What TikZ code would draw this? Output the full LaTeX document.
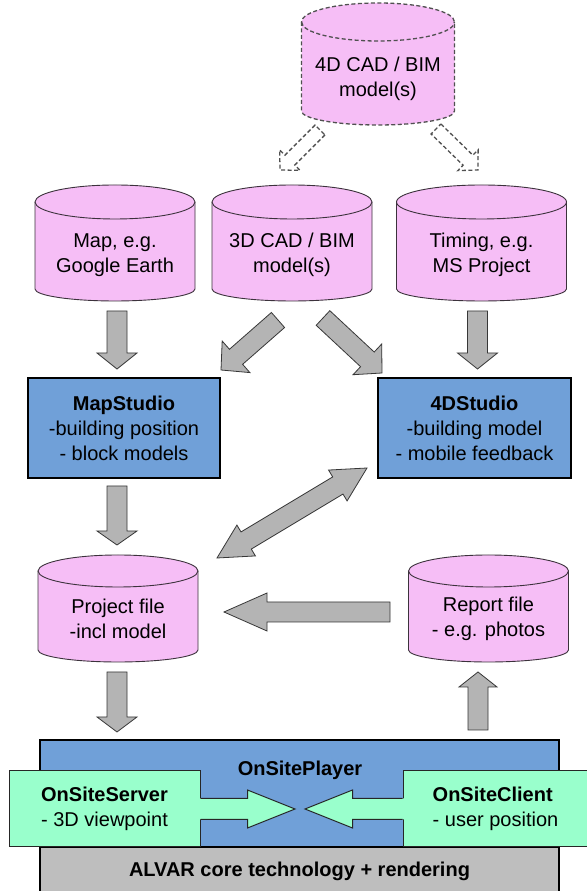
\documentclass[tikz,border=0pt]{standalone}
\usepackage{fontspec}
\setmainfont{Liberation Sans}
\usetikzlibrary{calc}
\definecolor{pinkc}{RGB}{246,190,246}
\definecolor{bluec}{RGB}{112,160,216}
\definecolor{greenc}{RGB}{153,255,204}
\definecolor{grayc}{RGB}{180,180,180}
\definecolor{alvarc}{RGB}{190,190,190}
\definecolor{cyline}{RGB}{60,50,60}
\definecolor{arrline}{RGB}{55,55,55}
\definecolor{dashline}{RGB}{80,80,80}
\tikzset{
  txt/.style={font=\fontsize{20}{25}\selectfont},
  cylfill/.style={fill=pinkc, draw=cyline, line width=0.9pt},
  cyldash/.style={fill=pinkc, draw=dashline, line width=1.3pt, dash pattern=on 4pt off 2.5pt},
  cyltext/.style={txt, inner sep=0pt, align=center},
  studio/.style={txt, draw=black, line width=2.6pt, fill=bluec, align=center, inner sep=0pt,
                 minimum height=100pt},
  grayarrow/.style={fill=grayc, draw=arrline, line width=0.8pt, line join=miter},
  dasharrow/.style={fill=white, draw=dashline, line width=1.3pt, dash pattern=on 4pt off 2.5pt},
  greenbox/.style={txt, fill=greenc, draw=black!85, line width=1pt, align=left, inner sep=0pt,
                   minimum height=76pt},
  garrow/.style={draw=black!85, line width=1pt, line join=miter},
  bigbox/.style={txt, draw=black, line width=2pt, inner sep=0pt, minimum width=519pt},
}
% cylinder outline: #1 style, #2 xc, #3 top, #4 bottom, #5 half width, #6 top radius, #7 bottom radius
\newcommand\cylshape[7]{%
  \pgfmathsetmacro\cT{#3-#6}\pgfmathsetmacro\cB{#4+#7}%
  \pgfmathsetmacro\xL{#2-#5}\pgfmathsetmacro\xR{#2+#5}%
  \filldraw[#1] (\xL,\cT) -- (\xL,\cB) arc[start angle=180,end angle=360,x radius=#5,y radius=#7]
    -- (\xR,\cT) arc[start angle=0,end angle=180,x radius=#5,y radius=#6] -- cycle;
  \draw[#1,fill=none] (\xL,\cT) arc[start angle=180,end angle=360,x radius=#5,y radius=#6];
}
% block arrow: #1 style, #2 start, #3 tip, #4 shaft half width, #5 head half width, #6 head length
\newcommand\blockarrow[6]{%
  \coordinate (baH) at ($(#3)!#6!(#2)$);
  \filldraw[#1] ($(#2)!#4!90:(#3)$) -- ($(baH)!#4!-90:(#2)$) -- ($(baH)!#5!-90:(#2)$) -- (#3)
    -- ($(baH)!#5!90:(#2)$) -- ($(baH)!#4!90:(#2)$) -- ($(#2)!#4!-90:(#3)$) -- cycle;
}
% double block arrow
\newcommand\dblockarrow[6]{%
  \coordinate (baA) at ($(#2)!#6!(#3)$);
  \coordinate (baB) at ($(#3)!#6!(#2)$);
  \filldraw[#1] (#2) -- ($(baA)!#5!90:(#3)$) -- ($(baA)!#4!90:(#3)$) -- ($(baB)!#4!-90:(#2)$)
    -- ($(baB)!#5!-90:(#2)$) -- (#3) -- ($(baB)!#5!90:(#2)$) -- ($(baB)!#4!90:(#2)$)
    -- ($(baA)!#4!-90:(#3)$) -- ($(baA)!#5!-90:(#3)$) -- cycle;
}
\begin{document}
\begin{tikzpicture}[x=1pt,y=1pt]
\useasboundingbox (0,0) rectangle (586,891);
\fill[white] (0,0) rectangle (586,891);

% ---------- cylinders ----------
\cylshape{cyldash}{378}{888}{766}{76.5}{19}{14}
\node[cyltext, minimum width=153pt, minimum height=74pt] (cad4d) at (378,812) {4D CAD / BIM\\model(s)};

\cylshape{cylfill}{115}{706}{590}{80}{17}{12}
\node[cyltext, minimum width=160pt, minimum height=70pt] (map) at (115,636) {Map, e.g.\\Google Earth};

\cylshape{cylfill}{292}{706}{590}{80}{17}{12}
\node[cyltext, minimum width=160pt, minimum height=70pt] (cad3d) at (292,636) {3D CAD / BIM\\model(s)};

\cylshape{cylfill}{481.5}{706}{590}{85}{17}{12}
\node[cyltext, minimum width=170pt, minimum height=70pt] (timing) at (481.5,636) {Timing, e.g.\\MS Project};

\cylshape{cylfill}{118}{336}{229}{80}{16}{12}
\node[cyltext, minimum width=160pt, minimum height=66pt] (project) at (118,272) {Project file\\-incl model};

\cylshape{cylfill}{488.5}{336}{229}{80}{16}{12}
\node[cyltext, minimum width=160pt, minimum height=66pt] (report) at (488.5,272) {Report file\\- e.g. photos};

% ---------- studios ----------
\node[studio, minimum width=192pt] (mapstudio) at (124,463)
  {\textbf{MapStudio}\\-building position\\- block models};
\node[studio, minimum width=193pt] (fourd) at (474.5,463)
  {\textbf{4DStudio}\\-building model\\- mobile feedback};

% ---------- bottom ----------
\node[bigbox, fill=bluec, minimum height=107pt] (player) at (299.5,97.5) {};
\node[txt, inner sep=0pt] (playerlbl) at (300,121) {\textbf{OnSitePlayer}};
\node[bigbox, fill=alvarc, minimum height=48pt] (alvar) at (299.5,20)
  {\textbf{ALVAR core technology + rendering}};
\node[greenbox, minimum width=191pt] (srv) at (104.5,82) {\textbf{OnSiteServer}\\- 3D viewpoint};
\node[greenbox, minimum width=185pt] (cli) at (495.5,82) {\textbf{OnSiteClient}\\- user position};

\coordinate (srvtip) at (295,82);
\coordinate (clitip) at (305,82);
\fill[greenc] ($(srv.east)+(-2,10.5)$) -- ($(srv.east)+(47,10.5)$) -- ($(srv.east)+(47,19)$) -- (srvtip)
  -- ($(srv.east)+(47,-19)$) -- ($(srv.east)+(47,-10.5)$) -- ($(srv.east)+(-2,-10.5)$) -- cycle;
\draw[garrow] ($(srv.east)+(0,10.5)$) -- ($(srv.east)+(47,10.5)$) -- ($(srv.east)+(47,19)$) -- (srvtip)
  -- ($(srv.east)+(47,-19)$) -- ($(srv.east)+(47,-10.5)$) -- ($(srv.east)+(0,-10.5)$);
\fill[greenc] ($(cli.west)+(2,10.5)$) -- ($(cli.west)+(-50,10.5)$) -- ($(cli.west)+(-50,19)$) -- (clitip)
  -- ($(cli.west)+(-50,-19)$) -- ($(cli.west)+(-50,-10.5)$) -- ($(cli.west)+(2,-10.5)$) -- cycle;
\draw[garrow] ($(cli.west)+(0,10.5)$) -- ($(cli.west)+(-50,10.5)$) -- ($(cli.west)+(-50,19)$) -- (clitip)
  -- ($(cli.west)+(-50,-19)$) -- ($(cli.west)+(-50,-10.5)$) -- ($(cli.west)+(0,-10.5)$);

% ---------- arrow end points ----------
\coordinate (d1s) at (320,761);   \coordinate (d1e) at (280,721);
\coordinate (d2s) at (436,762);   \coordinate (d2e) at (478,721);
\coordinate (a1s) at (117,580);   \coordinate (a1e) at (117,522);
\coordinate (a2s) at (477.5,580); \coordinate (a2e) at (477.5,522);
\coordinate (a3s) at (278,571);   \coordinate (a3e) at (221,521);
\coordinate (a4s) at (323,573);   \coordinate (a4e) at (382,518);
\coordinate (a5s) at (217,333);   \coordinate (a5e) at (367,423);
\coordinate (a6s) at (117,405);   \coordinate (a6e) at (117,346);
\coordinate (a7s) at (390,279);   \coordinate (a7e) at (224,279);
\coordinate (a8s) at (117,219);   \coordinate (a8e) at (117,159);
\coordinate (a9s) at (478,161);   \coordinate (a9e) at (478,219);

% dashed arrows from 4D CAD
\blockarrow{dasharrow}{d1s}{d1e}{7pt}{14.5pt}{14pt}
\blockarrow{dasharrow}{d2s}{d2e}{7pt}{14.5pt}{14pt}

% gray arrows
\blockarrow{grayarrow}{a1s}{a1e}{10pt}{20pt}{16pt}
\blockarrow{grayarrow}{a2s}{a2e}{10pt}{20pt}{16pt}
\blockarrow{grayarrow}{a3s}{a3e}{10pt}{21pt}{20pt}
\blockarrow{grayarrow}{a4s}{a4e}{10pt}{21pt}{20pt}
\dblockarrow{grayarrow}{a5s}{a5e}{10pt}{18pt}{34pt}
\blockarrow{grayarrow}{a6s}{a6e}{10pt}{20pt}{14pt}
\blockarrow{grayarrow}{a7s}{a7e}{10pt}{19pt}{43pt}
\blockarrow{grayarrow}{a8s}{a8e}{10pt}{20pt}{15pt}
\blockarrow{grayarrow}{a9s}{a9e}{10pt}{19pt}{15pt}
\end{tikzpicture}
\end{document}
